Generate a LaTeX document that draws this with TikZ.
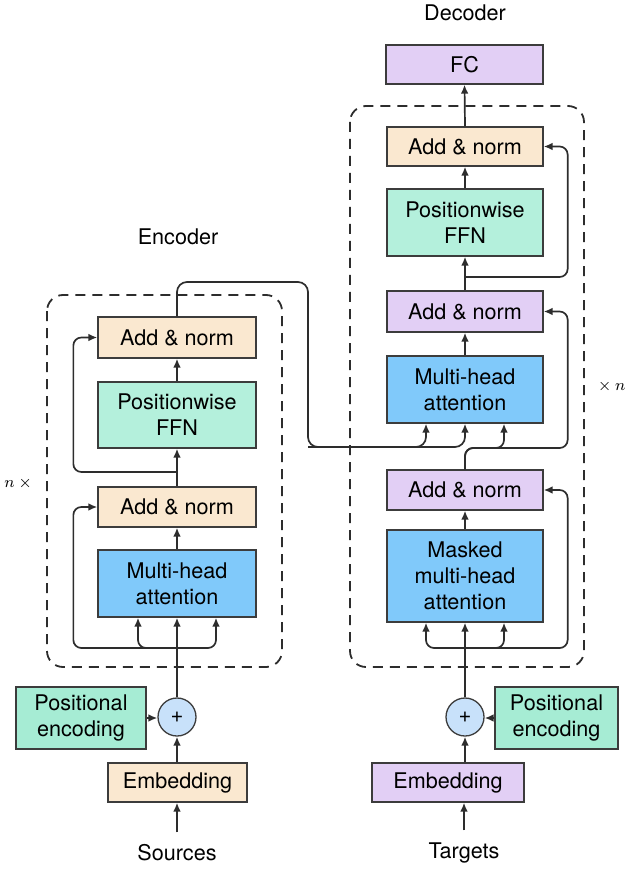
\documentclass[tikz,border=0pt]{standalone}
\usepackage{fontspec}
\setmainfont{TeX Gyre Heros}
\usepackage{tikz}
\usetikzlibrary{arrows.meta,positioning,calc}
\definecolor{peach}{RGB}{250,232,208}
\definecolor{ffngreen}{RGB}{180,240,220}
\definecolor{posgreen}{RGB}{166,236,212}
\definecolor{mhablue}{RGB}{128,201,250}
\definecolor{lilac}{RGB}{226,207,245}
\definecolor{plusblue}{RGB}{200,225,250}
\definecolor{boxline}{RGB}{60,60,60}
\definecolor{lineclr}{RGB}{45,45,45}

\begin{document}
\begin{tikzpicture}[x=0.5pt, y=-0.5pt,
  box/.style={draw=boxline, line width=0.65pt, minimum width=79pt, inner sep=0pt, align=center, font=\fontsize{10.8}{13}\selectfont},
  lbl/.style={font=\fontsize{10.8}{13}\selectfont, inner sep=1pt},
  arr/.style={draw=lineclr, line width=0.85pt, -{Latex[length=4.5pt,width=3.8pt]}},
  wire/.style={draw=lineclr, line width=0.85pt},
  dashbox/.style={draw=lineclr, line width=0.9pt, dash pattern=on 5pt off 3.5pt, rounded corners=8pt}]
  \useasboundingbox (0,0) rectangle (630,871);

  \draw[dashbox] (47,295) rectangle (282,667);
  \draw[dashbox] (350,106) rectangle (584,667);

  \node[lbl] (encLbl) at (178,237) {Encoder};
  \node[lbl] (decLbl) at (465,13) {Decoder};
  \node[font=\fontsize{8.5}{10}\selectfont] (nEnc) at (20,483) {$n\times{}$};
  \node[font=\fontsize{8.5}{10}\selectfont] (nDec) at (610,386) {${}\times n$};

  \node[box, fill=peach, minimum height=20.5pt] (anE2) at (177,337.5) {Add \& norm};
  \node[box, fill=ffngreen, minimum height=33pt] (ffnE) at (177,415) {Positionwise\\FFN};
  \node[box, fill=peach, minimum height=20pt] (anE1) at (177,507) {Add \& norm};
  \node[box, fill=mhablue, minimum height=33.5pt] (mhaE) at (177,583.5) {Multi-head\\attention};
  \node[circle, draw=boxline, line width=0.65pt, fill=plusblue, minimum size=19pt, inner sep=0pt, font=\fontsize{11}{12}\selectfont] (plusE) at (177,717) {+};
  \node[box, fill=posgreen, minimum width=65pt, minimum height=31pt] (posE) at (81,718) {Positional\\encoding};
  \node[box, fill=peach, minimum width=69.5pt, minimum height=19.5pt] (embE) at (177.5,782.5) {Embedding};
  \node[lbl] (src) at (177,853) {Sources};

  \node[box, fill=lilac, minimum width=78.5pt, minimum height=19.5pt] (fc) at (464.5,64.5) {FC};
  \node[box, fill=peach, minimum width=78pt, minimum height=19.5pt] (anD3) at (465,146.5) {Add \& norm};
  \node[box, fill=ffngreen, minimum width=78pt, minimum height=33.5pt] (ffnD) at (465,222.5) {Positionwise\\FFN};
  \node[box, fill=lilac, minimum width=78pt, minimum height=20.5pt] (anD2) at (465,311.5) {Add \& norm};
  \node[box, fill=mhablue, minimum width=78pt, minimum height=33.5pt] (mhaD) at (465,389.5) {Multi-head\\attention};
  \node[box, fill=lilac, minimum width=78pt, minimum height=20pt] (anD1) at (465,490) {Add \& norm};
  \node[box, fill=mhablue, minimum width=78pt, minimum height=46pt] (mmhaD) at (465,576) {Masked\\multi-head\\attention};
  \node[circle, draw=boxline, line width=0.65pt, fill=plusblue, minimum size=19pt, inner sep=0pt, font=\fontsize{11}{12}\selectfont] (plusD) at (465,717) {+};
  \node[box, fill=posgreen, minimum width=61.5pt, minimum height=31pt] (posD) at (556.5,718) {Positional\\encoding};
  \node[box, fill=lilac, minimum width=76pt, minimum height=19.5pt] (embD) at (448,782.5) {Embedding};
  \node[lbl] (tgt) at (464,853) {Targets};

  \coordinate (encS1) at (177,648);
  \coordinate (encS2) at (177,472);
  \coordinate (kvTop) at (308,282);
  \coordinate (kv) at (308,447);
  \coordinate (decS1) at (465,648);
  \coordinate (decS2) at (465,448);
  \coordinate (decS3) at (465,277);

  \draw[arr] ([yshift=5pt]src.north) -- (embE.south -| src.north);
  \draw[arr] (plusE.south |- embE.north) -- (plusE.south);
  \draw[arr] (posE.east) -- (posE.east -| plusE.west);
  \draw[arr] (plusE.north) -- (mhaE.south);
  \draw[arr, rounded corners=4pt] (encS1) -| ($(mhaE.south)+(-39,0)$);
  \draw[arr, rounded corners=4pt] (encS1) -| ($(mhaE.south)+(39,0)$);
  \draw[arr, rounded corners=4pt] (encS1) -| ([xshift=-12pt]anE1.west) -- (anE1.west);
  \draw[arr] (mhaE.north) -- (anE1.south);
  \draw[arr] (anE1.north) -- (ffnE.south);
  \draw[arr, rounded corners=4pt] (encS2) -| ([xshift=-12pt]anE2.west) -- (anE2.west);
  \draw[arr] (ffnE.north) -- (anE2.south);
  \draw[arr, rounded corners=5pt] (anE2.north) |- (kvTop) -- (kv) -| ($(mhaD.south)+(-39,0)$);
  \draw[arr, rounded corners=5pt] (kv) -| (mhaD.south);

  \draw[arr] ([yshift=5pt]tgt.north) -- (tgt.north |- embD.south);
  \draw[arr] (plusD.south |- embD.north) -- (plusD.south);
  \draw[arr] (posD.west) -- (posD.west -| plusD.east);
  \draw[arr] (plusD.north) -- (mmhaD.south);
  \draw[arr, rounded corners=4pt] (decS1) -| ($(mmhaD.south)+(-39,0)$);
  \draw[arr, rounded corners=4pt] (decS1) -| ($(mmhaD.south)+(39,0)$);
  \draw[arr, rounded corners=4pt] (decS1) -| ([xshift=12pt]anD1.east) -- (anD1.east);
  \draw[arr] (mmhaD.north) -- (anD1.south);
  \draw[arr, rounded corners=4pt] (anD1.north) -- (decS2) -| ($(mhaD.south)+(39,0)$);
  \draw[arr, rounded corners=4pt] (anD1.north) -- (decS2) -| ([xshift=12pt]anD2.east) -- (anD2.east);
  \draw[arr] (mhaD.north) -- (anD2.south);
  \draw[arr] (anD2.north) -- (ffnD.south);
  \draw[arr, rounded corners=4pt] (decS3) -| ([xshift=12pt]anD3.east) -- (anD3.east);
  \draw[arr] (ffnD.north) -- (anD3.south);
  \draw[arr] (anD3.north) -- (fc.south);
\end{tikzpicture}
\end{document}
